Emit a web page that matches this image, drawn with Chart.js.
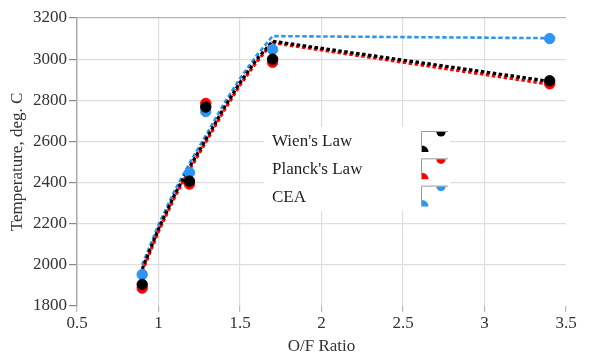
<!DOCTYPE html>
<html>
<head>
<meta charset="utf-8">
<script src="https://cdn.jsdelivr.net/npm/chart.js@4/dist/chart.umd.min.js"></script>
<style>
  html, body { margin: 0; padding: 0; background: #fff; }
  #wrap { width: 592px; height: 364px; }
</style>
</head>
<body>
<div id="wrap"><canvas id="c" width="592" height="364"></canvas></div>
<script>
// Measured points
const ofRatio = [0.9, 1.19, 1.29, 1.7, 3.4];
const wienTemps = [1905, 2407, 2767, 3000, 2895];
const planckTemps = [1887, 2393, 2785, 2985, 2880];
const ceaTemps = [1953, 2448, 2745, 3047, 3100];

// Fit curves
const fitRatio = [0.9, 1.0, 1.1, 1.2, 1.3, 1.4, 1.5, 1.6, 1.7, 3.4];
const wienFit = [1980, 2175, 2343, 2488, 2622, 2760, 2886, 2996, 3087, 2892];
const planckFit = [1968, 2163, 2331, 2476, 2610, 2748, 2874, 2985, 3080, 2878];
const ceaFit = [2000, 2195, 2363, 2508, 2642, 2782, 2906, 3016, 3112, 3102];

const legendLabels = ["Wien's Law", "Planck's Law", "CEA"];
const xTitle = 'O/F Ratio';
const yTitle = 'Temperature, deg. C';

const BLACK = '#000000', RED = '#ff0000', BLUE = '#2d95f5';
const FONT = 'Liberation Serif';
Chart.defaults.font.family = FONT;
Chart.defaults.font.size = 17;
Chart.defaults.color = '#333';

function pts(xs, ys) { return xs.map((x, i) => ({ x: x, y: ys[i] })); }

const legendPlugin = {
  id: 'boxLegend',
  afterDraw(chart) {
    const ctx = chart.ctx;
    ctx.save();
    ctx.fillStyle = '#fff';
    ctx.fillRect(264, 127, 186, 84);
    ctx.font = '17px "Liberation Serif"';
    ctx.textBaseline = 'alphabetic';
    const colors = [BLACK, RED, BLUE];
    legendLabels.forEach((t, i) => {
      const by = 146 + i * 28;
      ctx.fillStyle = '#222';
      ctx.fillText(t, 272, by);
      const mx = 421, my = 131 + i * 27.3;
      ctx.strokeStyle = '#9a9a9a';
      ctx.lineWidth = 1;
      ctx.beginPath();
      ctx.moveTo(mx + 27, my + 0.5);
      ctx.lineTo(mx + 0.5, my + 0.5);
      ctx.lineTo(mx + 0.5, my + 21);
      ctx.stroke();
      ctx.fillStyle = colors[i];
      ctx.beginPath();
      ctx.arc(mx + 20, my + 1, 4.6, 0, Math.PI);
      ctx.closePath();
      ctx.fill();
      ctx.beginPath();
      ctx.moveTo(mx + 1, my + 21);
      ctx.arc(mx + 1, my + 21, 6.5, -Math.PI / 2, 0);
      ctx.closePath();
      ctx.fill();
    });
    ctx.restore();
  }
};

const tickFont = { family: FONT, size: 17 };

new Chart(document.getElementById('c'), {
  type: 'scatter',
  data: {
    datasets: [
      { label: legendLabels[0], data: pts(ofRatio, wienTemps), backgroundColor: BLACK, borderColor: BLACK, pointRadius: 5.2, showLine: false },
      { label: legendLabels[1], data: pts(ofRatio, planckTemps), backgroundColor: RED, borderColor: RED, pointRadius: 5.2, showLine: false },
      { label: legendLabels[2], data: pts(ofRatio, ceaTemps), backgroundColor: BLUE, borderColor: BLUE, pointRadius: 5.2, showLine: false },
      { label: 'wienFit', data: pts(fitRatio, wienFit), borderColor: BLACK, borderWidth: 3.2, borderDash: [3.5, 2.5], pointRadius: 0, showLine: true, tension: 0 },
      { label: 'planckFit', data: pts(fitRatio, planckFit), borderColor: RED, borderWidth: 3.2, borderDash: [3.5, 2.5], pointRadius: 0, showLine: true, tension: 0 },
      { label: 'ceaFit', data: pts(fitRatio, ceaFit), borderColor: BLUE, borderWidth: 2.6, borderDash: [4.5, 2.5], pointRadius: 0, showLine: true, tension: 0 }
    ]
  },
  options: {
    responsive: false,
    animation: false,
    font: tickFont,
    layout: { padding: { top: 18, right: 26, left: 0, bottom: 0 } },
    plugins: { legend: { display: false }, tooltip: { enabled: false } },
    scales: {
      x: {
        type: 'linear', min: 0.5, max: 3.5,
        afterFit(s) { s.height = 58; },
        ticks: { stepSize: 0.5, color: '#333', font: tickFont, padding: 1, callback: (v) => String(v) },
        grid: {
          color: (c) => (c.tick && (c.tick.value === 0.5 || c.tick.value === 3.5)) ? 'rgba(0,0,0,0)' : '#dedede',
          tickColor: '#bbbbbb', tickLength: 6, lineWidth: 1.2
        },
        border: { display: false },
        title: { display: true, text: xTitle, color: '#333', font: tickFont, padding: { top: 0, bottom: 7 } }
      },
      y: {
        type: 'linear', min: 1800, max: 3200,
        afterFit(s) { s.width = 77; },
        ticks: { stepSize: 200, color: '#333', font: tickFont, padding: 2, callback: (v) => String(v) },
        grid: {
          color: (c) => c.tick && c.tick.value === 1800 ? 'rgba(0,0,0,0)' : (c.tick && c.tick.value === 3200 ? '#b5b5b5' : '#dedede'),
          tickColor: '#888', tickLength: 8, lineWidth: 1.2
        },
        border: { display: true, color: '#aaaaaa', width: 1.5 },
        title: { display: true, text: yTitle, color: '#333', font: tickFont, padding: { top: 7, bottom: 0 } }
      }
    }
  },
  plugins: [legendPlugin]
});
</script>
</body>
</html>
